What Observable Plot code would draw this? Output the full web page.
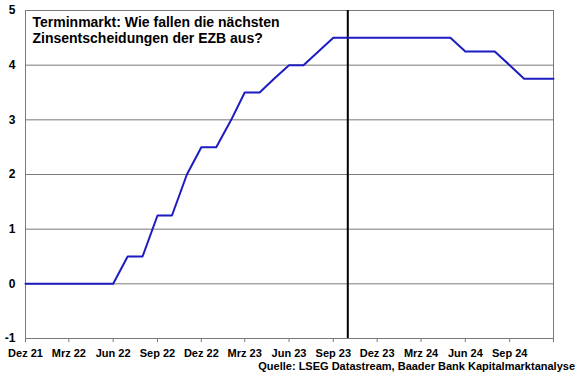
<!DOCTYPE html>
<html>
<head>
<meta charset="utf-8">
<script src="https://cdn.jsdelivr.net/npm/d3@7"></script>
<script src="https://cdn.jsdelivr.net/npm/@observablehq/plot@0.6"></script>
<style>
  html, body { margin: 0; padding: 0; background: #fff; }
  #wrap { position: relative; width: 580px; height: 375px; font-family: "Liberation Sans", Arial, sans-serif; }
  #caption { position: absolute; right: 5px; top: 360px; font-size: 11px; font-weight: bold; color: #000; white-space: nowrap; }
</style>
</head>
<body>
<div id="wrap"></div>
<script>
// Monthly path of the ECB main refinancing rate (realised + forward market), Dez 21 – Dez 24
const months = [
  "2021-12","2022-01","2022-02","2022-03","2022-04","2022-05","2022-06","2022-07","2022-08","2022-09",
  "2022-10","2022-11","2022-12","2023-01","2023-02","2023-03","2023-04","2023-05","2023-06","2023-07",
  "2023-08","2023-09","2023-10","2023-11","2023-12","2024-01","2024-02","2024-03","2024-04","2024-05",
  "2024-06","2024-07","2024-08","2024-09","2024-10","2024-11","2024-12"
];
const rates = [
  0, 0, 0, 0, 0, 0, 0, 0.5, 0.5, 1.25,
  1.25, 2.0, 2.5, 2.5, 3.0, 3.5, 3.5, 3.75, 4.0, 4.0,
  4.25, 4.5, 4.5, 4.5, 4.5, 4.5, 4.5, 4.5, 4.5, 4.5,
  4.25, 4.25, 4.25, 4.0, 3.75, 3.75, 3.75
];
const markerMonth = ["2023-10"];
const tickMonths = ["2021-12","2022-03","2022-06","2022-09","2022-12","2023-03","2023-06","2023-09","2023-12","2024-03","2024-06","2024-09","2024-12"];
const tickLabels = ["Dez 21","Mrz 22","Jun 22","Sep 22","Dez 22","Mrz 23","Jun 23","Sep 23","Dez 23","Mrz 24","Jun 24","Sep 24",""];
const yTicks = [-1, 0, 1, 2, 3, 4, 5];
const yTickLabels = ["-1", "0", "1", "2", "3", "4", "5"];
const gridValues = [0, 1, 2, 3, 4];
const titleLines = ["Terminmarkt: Wie fallen die nächsten", "Zinsentscheidungen der EZB aus?"];
const caption = "Quelle: LSEG Datastream, Baader Bank Kapitalmarktanalyse";

const toDate = (m) => { const [y, mo] = m.split("-").map(Number); return new Date(Date.UTC(y, mo - 1, 1)); };
const data = months.map((m, i) => ({date: toDate(m), value: rates[i]}));
const tickDates = tickMonths.map(toDate);
const labelOf = new Map(tickDates.map((d, i) => [+d, tickLabels[i]]));
const yLabelOf = new Map(yTicks.map((v, i) => [v, yTickLabels[i]]));

const chart = Plot.plot({
  width: 580,
  height: 362,
  marginLeft: 25,
  marginRight: 27,
  marginTop: 10,
  marginBottom: 24,
  style: {fontFamily: "'Liberation Sans', Arial, sans-serif", fontSize: "11px", fontWeight: "bold", color: "#000", background: "#fff"},
  x: {type: "utc", domain: [toDate(months[0]), toDate(months[months.length - 1])]},
  y: {domain: [-1, 5]},
  marks: [
    Plot.ruleY(gridValues, {stroke: "#7a7a7a", strokeWidth: 1}),
    Plot.frame({stroke: "#7a7a7a", strokeWidth: 1}),
    Plot.ruleX(markerMonth.map(toDate), {stroke: "#000", strokeWidth: 2}),
    Plot.line(data, {x: "date", y: "value", stroke: "#1c1cc0", strokeWidth: 2}),
    Plot.axisX({ticks: tickDates, tickFormat: (d) => labelOf.get(+d), tickSize: 4, tickPadding: 7, stroke: "#7a7a7a", fill: "#000", label: null}),
    Plot.axisY({ticks: yTicks, tickFormat: (v) => yLabelOf.get(v), tickSize: 0, tickPadding: 10, label: null, fill: "#000", fontSize: 12}),
    Plot.text([titleLines.join("\n")], {frameAnchor: "top-left", dx: 7, dy: 6, lineAnchor: "top", textAnchor: "start", fontSize: 14, fontWeight: "bold", lineHeight: 1.1, fill: "#000"})
  ]
});
const wrap = document.getElementById("wrap");
wrap.appendChild(chart);
const cap = document.createElement("div");
cap.id = "caption";
cap.textContent = caption;
wrap.appendChild(cap);
</script>
</body>
</html>
